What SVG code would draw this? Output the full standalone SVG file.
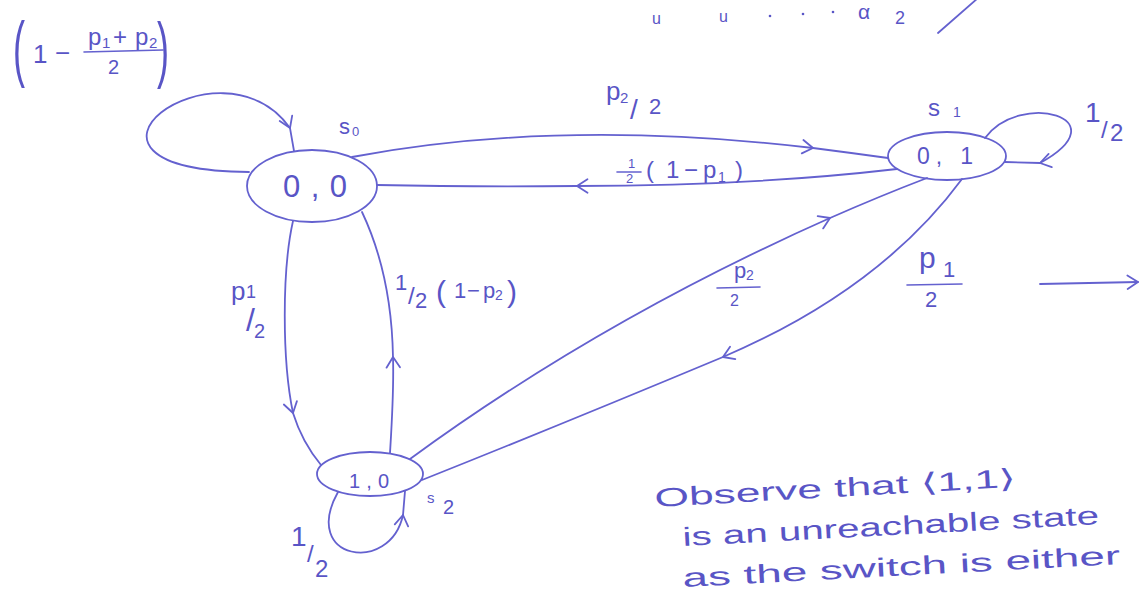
<svg xmlns="http://www.w3.org/2000/svg" width="1144" height="593" viewBox="0 0 1144 593">
<defs>
<marker id="chev" viewBox="0 0 10 10" refX="8" refY="5" markerWidth="15" markerHeight="15" markerUnits="userSpaceOnUse" orient="auto" overflow="visible">
<path d="M1,0.5 L8,5 L1,9.5" fill="none" stroke="#6461cf" stroke-width="1.2" stroke-linecap="round" stroke-linejoin="round"/>
</marker>
</defs>
<style>
.e{fill:none;stroke:#6461cf;stroke-width:1.8;stroke-linecap:round}
.a{marker-mid:url(#chev)}
.n{fill:none;stroke:#6461cf;stroke-width:1.8}
.bar{stroke:#6461cf;stroke-width:1.6;stroke-linecap:round}
.t{font-family:"Liberation Sans",Arial,sans-serif;fill:#5955c6}
</style>
<rect width="1144" height="593" fill="#ffffff"/>

<g id="connectors">
  <!-- s0 self loop -->
  <path class="e a" d="M249,172 C30,170 220,30 290,128 L294,151"/>
  <!-- s0 -> s1 (p2/2) -->
  <path class="e a" d="M352,157 Q560,118 813,148 Q852,153 888,158"/>
  <!-- s1 -> s0 (1/2(1-p1)) -->
  <path class="e a" d="M897,169 Q750,186 577,186 Q470,187 377,185"/>
  <!-- s0 -> s2 (p1/2) -->
  <path class="e a" d="M293,221 C282,270 282,360 293,413 Q302,442 321,465"/>
  <!-- s2 -> s0 (1/2(1-p2)) -->
  <path class="e a" d="M390,453 C392,420 394,390 393,357 C392,300 380,250 362,212"/>
  <!-- s2 -> s1 (p2/2) -->
  <path class="e a" d="M410,459 Q600,320 830,218 Q880,196 927,178"/>
  <!-- s1 -> s2 (p1/2) -->
  <path class="e a" d="M962,179 Q880,290 723,357 Q560,425 422,480"/>
  <!-- s1 self loop -->
  <path class="e a" d="M985,138 C1020,90 1122,118 1040,163 L1005,162"/>
  <!-- s2 self loop -->
  <path class="e a" d="M338,492 C300,560 390,575 403,515 L405,491"/>
  <!-- standalone arrow -->
  <path class="e" d="M1040,284 L1138,282" marker-end="url(#chev)"/>
  <!-- top fragment stroke -->
  <path class="e" d="M938,33 L978,-2"/>
</g>

<g id="node-s0">
  <ellipse class="n" cx="312" cy="186" rx="65" ry="36"/>
  <text class="t" x="283" y="197" font-size="31" textLength="64" lengthAdjust="spacing">0,0</text>
  <text class="t" x="339" y="134" font-size="22">s<tspan x="352" y="136" font-size="13">0</tspan></text>
</g>

<g id="node-s1">
  <ellipse class="n" cx="947" cy="156" rx="59" ry="24"/>
  <text class="t" x="917" y="164" font-size="23" textLength="56" lengthAdjust="spacing">0, 1</text>
  <text class="t" x="928" y="116" font-size="24">s<tspan x="953" y="117" font-size="14">1</tspan></text>
</g>

<g id="node-s2">
  <ellipse class="n" cx="370" cy="474" rx="53" ry="22"/>
  <text class="t" x="349" y="488" font-size="20" textLength="40" lengthAdjust="spacing">1,0</text>
  <text class="t" x="427" y="503" font-size="15">s<tspan x="443" y="514" font-size="20">2</tspan></text>
</g>

<g id="labels">
  <!-- (1 - (p1+p2)/2) -->
  <text class="t" font-size="72" transform="translate(13,73) scale(0.5,1)">(</text>
  <text class="t" font-size="26"><tspan x="33" y="63">1</tspan><tspan x="55" y="62">−</tspan></text>
  <text class="t" font-size="24"><tspan x="88" y="45">p</tspan><tspan x="102" y="48" font-size="15">1</tspan><tspan x="113" y="45">+</tspan><tspan x="135" y="45">p</tspan><tspan x="149" y="48" font-size="15">2</tspan></text>
  <line class="bar" x1="84" y1="52" x2="163" y2="50"/>
  <text class="t" x="108" y="74" font-size="20">2</text>
  <text class="t" font-size="72" transform="translate(157,74) scale(0.5,1)">)</text>

  <!-- p2/2 top -->
  <text class="t" font-size="26"><tspan x="606" y="100">p</tspan><tspan x="620" y="103" font-size="15">2</tspan><tspan x="630" y="119" font-size="28">/</tspan><tspan x="649" y="114" font-size="22">2</tspan></text>

  <!-- 1/2 (1-p1) -->
  <text class="t" x="628" y="168" font-size="13">1</text>
  <line class="bar" x1="617" y1="172" x2="641" y2="172"/>
  <text class="t" x="626" y="183" font-size="13">2</text>
  <text class="t" font-size="24"><tspan x="646" y="178">(</tspan><tspan x="666" y="178">1</tspan><tspan x="684" y="178">−</tspan><tspan x="703" y="178">p</tspan><tspan x="718" y="182" font-size="14">1</tspan><tspan x="735" y="178">)</tspan></text>

  <!-- p1/2 left -->
  <text class="t" font-size="26"><tspan x="231" y="300">p</tspan><tspan x="246" y="298" font-size="18">1</tspan><tspan x="246" y="331" font-size="32">/</tspan><tspan x="254" y="338" font-size="20">2</tspan></text>

  <!-- 1/2 (1-p2) -->
  <text class="t" font-size="22"><tspan x="395" y="290">1</tspan><tspan x="408" y="304" font-size="24">/</tspan><tspan x="415" y="308">2</tspan><tspan x="436" y="302" font-size="30">(</tspan><tspan x="454" y="298">1</tspan><tspan x="467" y="298">−</tspan><tspan x="483" y="298">p</tspan><tspan x="495" y="300" font-size="14">2</tspan><tspan x="507" y="302" font-size="30">)</tspan></text>

  <!-- p2/2 middle -->
  <text class="t" font-size="22"><tspan x="734" y="278">p</tspan><tspan x="746" y="280" font-size="14">2</tspan></text>
  <line class="bar" x1="717" y1="288" x2="760" y2="287"/>
  <text class="t" x="730" y="306" font-size="16">2</text>

  <!-- p1/2 right -->
  <text class="t" font-size="30"><tspan x="919" y="268">p</tspan><tspan x="943" y="277" font-size="22">1</tspan></text>
  <line class="bar" x1="907" y1="285" x2="962" y2="284"/>
  <text class="t" x="925" y="307" font-size="22">2</text>

  <!-- 1/2 s1 loop -->
  <text class="t" font-size="28"><tspan x="1085" y="122">1</tspan><tspan x="1101" y="138" font-size="24">/</tspan><tspan x="1110" y="141" font-size="24">2</tspan></text>

  <!-- 1/2 s2 loop -->
  <text class="t" font-size="28"><tspan x="291" y="546">1</tspan><tspan x="307" y="562" font-size="24">/</tspan><tspan x="315" y="577" font-size="24">2</tspan></text>
</g>

<g id="notes">
  <text class="t" x="652" y="24" font-size="16">u</text>
  <text class="t" x="719" y="22" font-size="16">u</text>
  <circle cx="770" cy="16" r="1.3" fill="#5955c6"/>
  <circle cx="803" cy="14" r="1.3" fill="#5955c6"/>
  <circle cx="833" cy="12" r="1.3" fill="#5955c6"/>
  <text class="t" x="858" y="19" font-size="21">α<tspan x="895" y="24" font-size="18">2</tspan></text>

  <text class="t" x="655" y="507" font-size="26" textLength="362" lengthAdjust="spacingAndGlyphs" transform="rotate(-3.2 655 507)">Observe that ⟨1,1⟩</text>
  <text class="t" x="683" y="546" font-size="26" textLength="417" lengthAdjust="spacingAndGlyphs" transform="rotate(-3 683 546)">is an unreachable state</text>
  <text class="t" x="683" y="587" font-size="26" textLength="438" lengthAdjust="spacingAndGlyphs" transform="rotate(-3 683 587)">as the switch is either</text>
</g>
</svg>
